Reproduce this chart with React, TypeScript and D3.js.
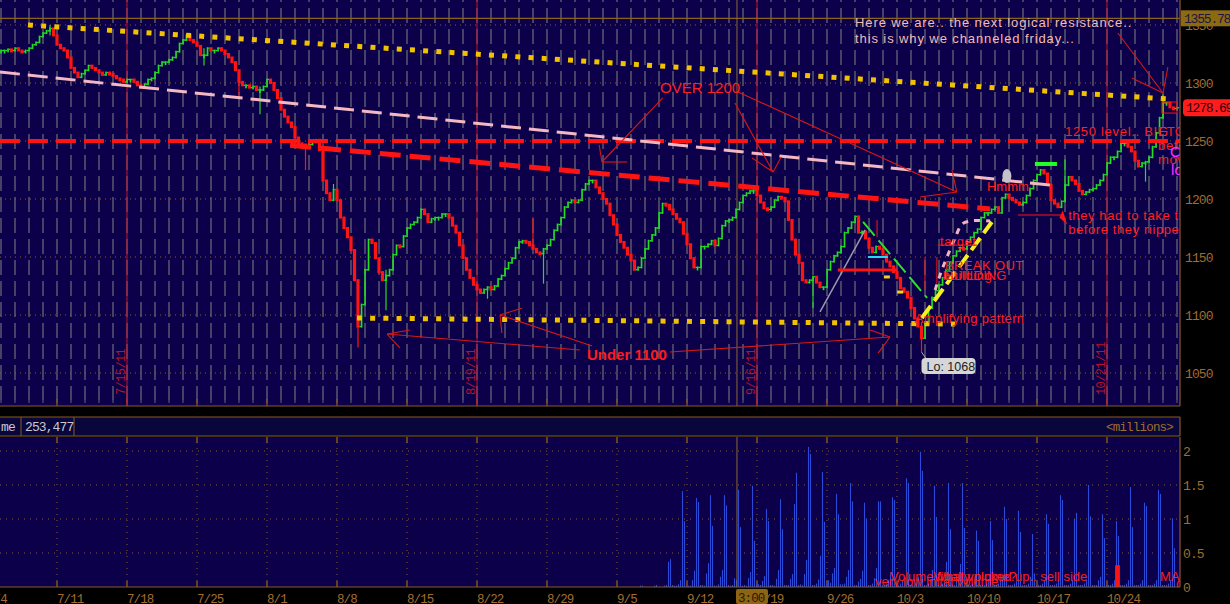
import React from "react";
import * as d3 from "d3";

// ---- price series: four bars per session, Tue 7/5/2011 .. Fri 10/28/2011 ----
const BARS_PER_DAY = 4;
const closes: number[] = [
  1328, 1328, 1329, 1328, 1330, 1328, 1327, 1328, 1330, 1333,
  1335, 1340, 1343, 1345, 1347, 1341, 1333, 1330, 1328, 1322,
  1313, 1309, 1305, 1308, 1311, 1315, 1313, 1311, 1309, 1307,
  1309, 1308, 1306, 1304, 1303, 1301, 1303, 1303, 1301, 1298,
  1296, 1299, 1303, 1304, 1309, 1315, 1318, 1318, 1320, 1322,
  1327, 1334, 1337, 1341, 1337, 1335, 1332, 1324, 1324, 1330,
  1328, 1328, 1330, 1328, 1325, 1322, 1318, 1311, 1301, 1298,
  1298, 1296, 1297, 1294, 1294, 1297, 1303, 1300, 1294, 1287,
  1277, 1271, 1266, 1262, 1253, 1248, 1247, 1245, 1247, 1249,
  1251, 1242, 1216, 1205, 1199, 1208, 1199, 1184, 1175, 1167,
  1156, 1130, 1090, 1109, 1139, 1165, 1162, 1149, 1137, 1130,
  1134, 1139, 1152, 1160, 1159, 1168, 1175, 1178, 1180, 1184,
  1191, 1187, 1180, 1183, 1184, 1184, 1187, 1187, 1184, 1177,
  1171, 1160, 1149, 1139, 1132, 1126, 1122, 1119, 1122, 1124,
  1122, 1125, 1131, 1134, 1140, 1145, 1149, 1158, 1163, 1164,
  1163, 1160, 1157, 1154, 1153, 1157, 1160, 1165, 1173, 1178,
  1184, 1193, 1197, 1199, 1197, 1199, 1208, 1213, 1216, 1216,
  1210, 1205, 1200, 1196, 1186, 1178, 1169, 1163, 1158, 1152,
  1147, 1139, 1141, 1149, 1157, 1164, 1169, 1175, 1188, 1196,
  1195, 1191, 1187, 1183, 1180, 1170, 1161, 1149, 1141, 1141,
  1159, 1159, 1161, 1164, 1160, 1166, 1177, 1181, 1182, 1184,
  1191, 1197, 1203, 1205, 1207, 1207, 1203, 1197, 1192, 1191,
  1193, 1199, 1202, 1201, 1198, 1182, 1165, 1152, 1145, 1130,
  1128, 1130, 1133, 1128, 1124, 1124, 1139, 1146, 1151, 1154,
  1159, 1171, 1175, 1180, 1185, 1171, 1172, 1166, 1158, 1154,
  1159, 1157, 1152, 1146, 1142, 1137, 1132, 1123, 1120, 1115,
  1106, 1097, 1090, 1080, 1094, 1106, 1115, 1121, 1126, 1132,
  1139, 1145, 1151, 1155, 1158, 1157, 1163, 1167, 1171, 1174,
  1184, 1188, 1188, 1191, 1193, 1188, 1201, 1204, 1201, 1199,
  1197, 1195, 1197, 1203, 1209, 1216, 1221, 1225, 1222, 1212,
  1199, 1196, 1193, 1198, 1212, 1219, 1216, 1213, 1207, 1204,
  1206, 1208, 1209, 1212, 1216, 1221, 1231, 1236, 1236, 1241,
  1248, 1248, 1245, 1241, 1233, 1228, 1231, 1232, 1236, 1245,
  1257, 1270, 1283, 1283, 1279, 1278, 1278.69,
];

// wick extremes on selected bars: [bar, low, high]
const wicks: [number, number, number][] = [
  [14, 1341, 1350],
  [53, 1337, 1342],
  [58, 1315, 1330],
  [68, 1290, 1301],
  [74, 1273, 1297],
  [87, 1225, 1247],
  [95, 1199, 1213],
  [102, 1072, 1109],
  [110, 1104, 1139],
  [139, 1114, 1124],
  [152, 1157, 1184],
  [155, 1127, 1157],
  [232, 1106, 1133],
  [263, 1068, 1094],
  [304, 1198, 1234],
  [327, 1215, 1232],
  [332, 1270, 1290],
];

// ---- volume (millions), seven slots per session, starting Tue 9/6 (day 45) ----
const SLOTS_PER_DAY = 7;
const VOLUME_FIRST_DAY = 45;
const volumeByDay: number[][] = [
  [0, 0, 0, 0, 0.02, 0.02, 0],
  [0, 0, 0, 0, 0.02, 0.03, 0],
  [0, 0, 0.02, 0.03, 0.37, 0.41, 0.03],
  [0.02, 0.02, 0.04, 0.1, 1.41, 0.97, 0.02],
  [0.02, 0.02, 0.1, 0.24, 1.31, 1.25, 0.03],
  [0.03, 0.02, 0.2, 0.35, 1.35, 0.9, 0.02],
  [0.02, 0.04, 0.15, 0.25, 1.35, 1.2, 0.03],
  [0.02, 0.03, 0.13, 0.1, 1.43, 0.88, 0.02],
  [0.03, 0.02, 0.13, 0.22, 1.49, 0.68, 0.04],
  [0.04, 0.03, 0.09, 0.16, 1.15, 0.97, 0.03],
  [0.03, 0.02, 0.12, 0.25, 1.29, 0.85, 0.03],
  [0.03, 0.03, 0.12, 0.19, 1.22, 1.68, 0.03],
  [0.04, 0.03, 0.19, 0.4, 2.06, 1.96, 0.03],
  [0.03, 0.05, 0.11, 0.46, 1.69, 0.96, 0.04],
  [0.1, 0.06, 0.2, 0.28, 1.37, 1.07, 0.04],
  [0.04, 0.05, 0.15, 0.25, 1.53, 1.26, 0.03],
  [0.03, 0.08, 0.12, 0.24, 1.24, 1.01, 0.03],
  [0.03, 0.05, 0.13, 0.28, 1.26, 1.26, 0.03],
  [0.03, 0.05, 0.1, 0.22, 1.32, 1.28, 0.03],
  [0.03, 0.05, 0.1, 0.1, 1.6, 1.53, 0.03],
  [0.03, 0.1, 0.14, 0.15, 1.99, 1.71, 0.03],
  [0.03, 0.05, 0.1, 0.25, 1.49, 1.03, 0.03],
  [0.03, 0.05, 0.1, 0.37, 1.53, 0.85, 0.03],
  [0.03, 0.1, 0.1, 0.34, 1.53, 0.87, 0.03],
  [0.03, 0.03, 0.05, 0.1, 0.83, 0.68, 0.03],
  [0.03, 0.03, 0.05, 0.1, 0.97, 0.69, 0.03],
  [0.03, 0.05, 0.1, 0.15, 1.18, 1.0, 0.03],
  [0.03, 0.03, 0.05, 0.1, 1.12, 0.81, 0.03],
  [0.03, 0.03, 0.05, 0.15, 0.78, 0.2, 0.03],
  [0.03, 0.03, 0.05, 0.1, 1.07, 0.93, 0.03],
  [0.03, 0.03, 0.05, 0.1, 1.35, 1.28, 0.03],
  [0.03, 0.03, 0.05, 0.1, 1.0, 1.09, 0.03],
  [0.03, 0.03, 0.05, 0.1, 1.5, 1.04, 0.03],
  [0.03, 0.03, 0.1, 0.15, 1.07, 0.72, 0.03],
  [0.03, 0.03, 0.05, 0.1, 0.97, 0.75, 0.03],
  [0.03, 0.03, 0.05, 0.1, 1.47, 0.88, 0.03],
  [0.03, 0.03, 0.05, 0.1, 1.24, 1.19, 0.03],
  [0.03, 0.03, 0.05, 0.1, 1.43, 1.37, 0.03],
  [0.03, 0.03, 0.05, 0.1, 1.01, 0.57],
];
// highlighted volume slots: [day, slot, millions]
const volumeMarks: [number, number, number][] = [
  [79, 4, 0.32],
  [79, 5, 0.32],
];

// ---- axes ----
const weekLabels = ["7/4", "7/11", "7/18", "7/25", "8/1", "8/8", "8/15", "8/22", "8/29",
  "9/5", "9/12", "9/19", "9/26", "10/3", "10/10", "10/17", "10/24"];
const expiryLabels = ["7/15/11", "8/19/11", "9/16/11", "10/21/11"];
const expiryDays = [9, 34, 54, 79];
const priceTicks = [1050, 1100, 1150, 1200, 1250, 1300, 1350];
const volumeTicks = [0, 0.5, 1, 1.5, 2];
const resistancePrice = 1355.78;
const lastVolume = "253,477";
const cursorDay = 52.57;
const cursorLabel = "3:00";

// ---- drawn studies, in (bar, price) ----
type Pt = [number, number];
const studies: { pts: Pt[]; kind: string }[] = [
  { pts: [[-0.3, 1250], [337, 1250]], kind: "redLevel" },
  { pts: [[-0.3, 1309.5], [299.7, 1212]], kind: "pinkDash" },
  { pts: [[82.6, 1246.3], [282.6, 1191.4]], kind: "redSlope" },
  { pts: [[7.7, 1350], [334.6, 1286]], kind: "goldDots" },
  { pts: [[101.7, 1097.4], [272.6, 1092.2]], kind: "goldDots" },
  { pts: [[234, 1102.6], [246.9, 1173.3]], kind: "gray" },
  { pts: [[239.1, 1138.8], [256, 1138.8]], kind: "redBar" },
  { pts: [[247.7, 1150], [253.4, 1150]], kind: "cyan" },
  { pts: [[246.3, 1180.2], [264.6, 1114.7]], kind: "greenDash" },
  { pts: [[266.9, 1121.6], [268.6, 1137.1], [270.3, 1150], [272.6, 1166.4], [274.6, 1178.4], [276.9, 1181], [279.1, 1181.5], [282.6, 1181]], kind: "pinkDots" },
  { pts: [[263.1, 1097.4], [283.1, 1180.2]], kind: "yellowDash" },
  { pts: [[267.7, 1160.3], [278.9, 1160.3]], kind: "redThin" },
  { pts: [[290.6, 1186.2], [303.4, 1186.2]], kind: "redThin" },
  { pts: [[295.4, 1230.2], [301.7, 1230.2]], kind: "greenBar" },
  { pts: [[264, 1121.6], [264, 1150]], kind: "redThin" },
  { pts: [[267.4, 1127], [267.4, 1150]], kind: "redThin" },
  { pts: [[250.3, 1167.2], [250.3, 1181.9]], kind: "redThin" },
];
const yellowTicks: Pt[] = [[253.1, 1132.8], [256.9, 1119.8]];

const arrows: { from: Pt; to: Pt; heads: Pt[] }[] = [
  { from: [189.1, 1287.1], to: [171.7, 1231.9], heads: [[178.9, 1231.9], [170.9, 1246.6]] },
  { from: [209.7, 1282.8], to: [220.6, 1223.3], heads: [[214.6, 1235.3], [222.9, 1236.2]] },
  { from: [210.6, 1292.2], to: [273.1, 1206], heads: [[271.7, 1225], [262.6, 1201.7]] },
  { from: [165.4, 1069.8], to: [110.3, 1083.6], heads: [[116.9, 1087.1], [114, 1071.6]] },
  { from: [168.9, 1073.3], to: [142.6, 1100], heads: [[148.9, 1106], [143.1, 1084.5]] },
  { from: [191.1, 1068.1], to: [254, 1081], heads: [[248.3, 1087.1], [250.6, 1067.2]] },
  { from: [319.1, 1343.1], to: [332, 1291.4], heads: [[323.1, 1304.3], [333.4, 1313.8]] },
];

const notes: { at: Pt; text: string; color: string; size: number; bold?: boolean; spacing?: number }[] = [
  { at: [188.3, 1291.4], text: "OVER 1200", color: "#ff2020", size: 15 },
  { at: [167.4, 1061.2], text: "Under 1100", color: "#ff1c1c", size: 15, bold: true },
  { at: [244, 1348.3], text: "Here we are.. the next logical resistance..", color: "#f2bcb4", size: 13, spacing: 0.9 },
  { at: [244, 1334.5], text: "this is why we channeled friday...", color: "#f2bcb4", size: 13, spacing: 0.9 },
  { at: [304, 1254.3], text: "1250 level.. BIG", color: "#ff2020", size: 13, spacing: 0.7 },
  { at: [330.6, 1254.3], text: "ETG", color: "#ff2020", size: 13 },
  { at: [330.6, 1242.2], text: "before", color: "#ff2020", size: 13, spacing: 0.6 },
  { at: [330.6, 1230.2], text: "move", color: "#ff2020", size: 13, spacing: 0.6 },
  { at: [334, 1236.2], text: "Co", color: "#ff30ff", size: 15 },
  { at: [334.3, 1220.7], text: "lo", color: "#ff30ff", size: 15 },
  { at: [281.7, 1206.9], text: "Hmmm", color: "#ff2020", size: 13 },
  { at: [304.9, 1181.9], text: "they had to take the B", color: "#ff2020", size: 13, spacing: 0.6 },
  { at: [304.9, 1169.8], text: "before they riipped it", color: "#ff2020", size: 13, spacing: 0.6 },
  { at: [268.3, 1159.5], text: "target", color: "#ff2020", size: 13, spacing: 0.5 },
  { at: [269.7, 1138.8], text: "BREAK OUT", color: "#ff2020", size: 13, spacing: 0.4 },
  { at: [269.7, 1130.2], text: "BUILDING", color: "#ff2020", size: 13 },
  { at: [269.1, 1130.2], text: "building", color: "#ff2020", size: 13, spacing: 0.6 },
  { at: [261.1, 1093.1], text: "Amplifying pattern", color: "#ff2020", size: 13, spacing: 0.3 },
];

// volume-panel notes in (day, millions)
const volumeNotes: { at: Pt; text: string }[] = [
  { at: [63.5, 0.09], text: "Volume finally picked up.. sell side" },
  { at: [66.6, 0.09], text: "What volume?" },
  { at: [62.43, 0.015], text: "very low inital volume" },
  { at: [82.79, 0.09], text: "MA" },
  { at: [83.93, -0.03], text: "Co" },
];

const BG = "#0b0049";
const GRAY = "#666674";
const BROWN = "#8a5a22";
const AXIS_TXT = "#a06c30";
const UP = "#22dd22";
const DOWN = "#ff1414";
const MONO = "'Liberation Mono', 'DejaVu Sans Mono', monospace";
const SANS = "'Liberation Sans', Arial, sans-serif";

const strokeStyles: Record<string, { stroke: string; width: number; dash?: string; curve?: boolean }> = {
  redLevel: { stroke: "#ff1414", width: 4, dash: "20,8" },
  pinkDash: { stroke: "#f4b8c4", width: 3, dash: "20,8" },
  redSlope: { stroke: "#ff1414", width: 5, dash: "21,9" },
  goldDots: { stroke: "#f2c200", width: 5, dash: "5,8.2" },
  gray: { stroke: "#9a9aa8", width: 1.5 },
  redBar: { stroke: "#ff1414", width: 3 },
  cyan: { stroke: "#28d8f0", width: 2 },
  greenDash: { stroke: "#2ee02e", width: 2, dash: "18,6" },
  pinkDots: { stroke: "#f2b4c2", width: 3, dash: "6,6", curve: true },
  yellowDash: { stroke: "#f6f020", width: 4, dash: "15,6" },
  redThin: { stroke: "#ff1414", width: 1 },
  greenBar: { stroke: "#22ff22", width: 4 },
};

export default function App() {
  const x = d3.scaleLinear().domain([0, 84]).range([1, 1177]);
  const y = d3.scaleLinear().domain([1050, 1300]).range([373, 83]);
  const yv = d3.scaleLinear().domain([0, 2]).range([587, 451]);
  const bx = (b: number) => x(b / BARS_PER_DAY);

  const straight = d3.line<Pt>().x((d) => bx(d[0])).y((d) => y(d[1]));
  const smooth = d3.line<Pt>().x((d) => bx(d[0])).y((d) => y(d[1])).curve(d3.curveCatmullRom);

  const PR = 1180; // right edge of the plot area
  const days = d3.range(0, 85);
  const weekDays = weekLabels.map((_, j) => 5 * j - 1);

  const last = closes[closes.length - 1];

  // lowest print across bodies and wicks
  let loBar = 0;
  let loVal = Infinity;
  closes.forEach((c, i) => { if (c < loVal) { loVal = c; loBar = i; } });
  wicks.forEach(([b, l]) => { if (l < loVal) { loVal = l; loBar = b; } });

  const wickMap = new Map(wicks.map((w) => [w[0], w]));

  return (
    <svg width={1230} height={604} style={{ position: "absolute", left: 0, top: 0, background: "#000" }}
      xmlns="http://www.w3.org/2000/svg">
      <defs>
        <clipPath id="pclip"><rect x={0} y={0} width={PR} height={406} /></clipPath>
        <clipPath id="vclip"><rect x={0} y={437} width={PR} height={150} /></clipPath>
      </defs>

      {/* ---------- price panel ---------- */}
      <rect x={0} y={0} width={PR} height={406} fill={BG} />
      <g clipPath="url(#pclip)">
        {priceTicks.map((t) => (
          <line key={t} x1={0} x2={PR} y1={y(t)} y2={y(t)} stroke={BROWN} strokeWidth={1} strokeDasharray="1,4" />
        ))}
        {days.map((d) => (
          <line key={d} x1={x(d)} x2={x(d)} y1={0} y2={400} stroke={GRAY} strokeWidth={1.3}
            strokeDasharray="15,6" strokeDashoffset={13} />
        ))}
        {days.map((d) => (
          <line key={"t" + d} x1={x(d)} x2={x(d)} y1={400} y2={403} stroke={GRAY} strokeWidth={1} />
        ))}
        {weekDays.map((d) => (
          <line key={"w" + d} x1={x(d)} x2={x(d)} y1={399} y2={406} stroke={BROWN} strokeWidth={1.3} />
        ))}
        {/* monthly expiration markers */}
        {expiryDays.map((d, k) => (
          <g key={"e" + d}>
            <line x1={x(d)} x2={x(d)} y1={0} y2={406} stroke="#c8102a" strokeWidth={1} />
            <text transform={`translate(${x(d) - 2},395) rotate(-90)`} fill="#b8142c" fontFamily={MONO}
              fontSize={12} letterSpacing={-0.6}>{expiryLabels[k]}</text>
          </g>
        ))}
        {/* resistance reference line */}
        <line x1={0} x2={PR} y1={y(resistancePrice)} y2={y(resistancePrice)} stroke="#8a6418" strokeWidth={1.2} />
        {/* cursor */}
        <line x1={x(cursorDay)} x2={x(cursorDay)} y1={0} y2={406} stroke="#8a6a30" strokeWidth={1} />

        {/* price bars */}
        {closes.map((c, i) => {
          const o = i === 0 ? c : closes[i - 1];
          const up = c >= o;
          const cx = bx(i);
          const top = y(Math.max(o, c));
          const h = Math.max(y(Math.min(o, c)) - top, 2);
          const w = wickMap.get(i);
          const col = up ? UP : DOWN;
          return (
            <g key={"b" + i}>
              {w && <line x1={cx} x2={cx} y1={y(w[2])} y2={y(w[1])} stroke={col} strokeWidth={1.2} />}
              {up ? (
                <>
                  <rect x={cx - 0.8} y={top - 1} width={1.7} height={h + 2} fill={UP} />
                  <rect x={cx - 2} y={y(o) - 0.6} width={1.5} height={1.2} fill={UP} />
                  <rect x={cx + 0.8} y={y(c) - 0.6} width={1.5} height={1.2} fill={UP} />
                </>
              ) : (
                <rect x={cx - 1.6} y={top - 1} width={3.2} height={h + 2} fill={DOWN} />
              )}
            </g>
          );
        })}

        {/* drawn studies */}
        {studies.map((s, k) => {
          const st = strokeStyles[s.kind];
          return (
            <path key={"s" + k} d={(st.curve ? smooth : straight)(s.pts) || ""} fill="none" stroke={st.stroke}
              strokeWidth={st.width} strokeDasharray={st.dash} />
          );
        })}
        {yellowTicks.map(([b, p], k) => (
          <rect key={"yt" + k} x={bx(b) - 3} y={y(p) - 1.5} width={6} height={3} fill="#f6d020" />
        ))}
        {/* marker box around the last push */}
        <rect x={bx(331.7)} y={y(1283.6)} width={bx(336) - bx(331.7)} height={y(1274.1) - y(1283.6)}
          fill="none" stroke="#ff1414" strokeWidth={1} />
        <ellipse cx={bx(287.4)} cy={y(1219.8)} rx={4.5} ry={7} fill="#c4c4c8" />
        <path d={`M${bx(303.4)},${y(1190)} L${bx(304.6)},${y(1178)} L${bx(302.4)},${y(1184)} Z`} fill="#ff1414" />

        {arrows.map((a, k) => (
          <g key={"a" + k} stroke="#d81818" strokeWidth={1.1}>
            <line x1={bx(a.from[0])} y1={y(a.from[1])} x2={bx(a.to[0])} y2={y(a.to[1])} />
            {a.heads.map((h, j) => (
              <line key={j} x1={bx(a.to[0])} y1={y(a.to[1])} x2={bx(h[0])} y2={y(h[1])} />
            ))}
          </g>
        ))}

        {notes.map((n, k) => (
          <text key={"n" + k} x={bx(n.at[0])} y={y(n.at[1])} fill={n.color} fontFamily={SANS}
            fontSize={n.size} fontWeight={n.bold ? "bold" : "normal"} letterSpacing={n.spacing || 0}>{n.text}</text>
        ))}

        {/* session low bubble */}
        <line x1={bx(loBar)} y1={y(loVal)} x2={bx(loBar) + 5} y2={y(loVal) + 7} stroke="#b0b0b0" strokeWidth={1} />
        <rect x={bx(loBar)} y={y(loVal) + 6} width={54} height={16} rx={4} fill="#d6d6d6" />
        <text x={bx(loBar) + 5} y={y(loVal) + 18.5} fill="#1c1c1c" fontFamily={SANS} fontSize={12.5}>
          {`Lo: ${d3.format("d")(loVal)}`}
        </text>
      </g>

      {/* ---------- price axis ---------- */}
      <line x1={PR} x2={PR} y1={0} y2={406} stroke={BROWN} strokeWidth={1.2} />
      <line x1={0} x2={PR} y1={406} y2={406} stroke={BROWN} strokeWidth={1.2} />
      {priceTicks.map((t) => (
        <text key={"pl" + t} x={1185} y={y(t) + 4.5} fill={AXIS_TXT} fontFamily={MONO} fontSize={13}
          letterSpacing={-0.9}>{t}</text>
      ))}
      <rect x={1181} y={y(resistancePrice) - 8} width={49} height={16} fill="#8c6a12" />
      <text x={1184} y={y(resistancePrice) + 4.5} fill="#1c1640" fontFamily={MONO} fontSize={13}
        letterSpacing={-1.2}>{resistancePrice.toFixed(2)}</text>
      <rect x={1183} y={y(last) - 8.5} width={52} height={17} rx={4} fill="#ff1c1c" />
      <text x={1186} y={y(last) + 4.5} fill="#2a0008" fontFamily={MONO} fontSize={13}
        letterSpacing={-1.2}>{last.toFixed(2)}</text>

      {/* ---------- volume header ---------- */}
      <rect x={0} y={417} width={PR} height={19} fill="#08063a" />
      <line x1={0} x2={PR} y1={417} y2={417} stroke={BROWN} strokeWidth={1.2} />
      <line x1={0} x2={PR} y1={436} y2={436} stroke={BROWN} strokeWidth={1.2} />
      <line x1={21} x2={21} y1={417} y2={436} stroke={BROWN} strokeWidth={1} />
      <line x1={74} x2={74} y1={417} y2={436} stroke={BROWN} strokeWidth={1} />
      <line x1={PR} x2={PR} y1={417} y2={436} stroke={BROWN} strokeWidth={1.2} />
      <text x={1} y={431} fill="#c8c8d4" fontFamily={MONO} fontSize={13} letterSpacing={-0.8}>me</text>
      <text x={25} y={431} fill="#c8c8d4" fontFamily={MONO} fontSize={13} letterSpacing={-0.9}>{lastVolume}</text>
      <text x={1173} y={431} textAnchor="end" fill={AXIS_TXT} fontFamily={MONO} fontSize={12.5}
        letterSpacing={-0.8}>{"<millions>"}</text>

      {/* ---------- volume panel ---------- */}
      <rect x={0} y={437} width={PR} height={150} fill={BG} />
      <g clipPath="url(#vclip)">
        {volumeTicks.filter((t) => t > 0).map((t) => (
          <line key={"vg" + t} x1={0} x2={PR} y1={yv(t)} y2={yv(t)} stroke={BROWN} strokeDasharray="1,5" />
        ))}
        {weekDays.map((d) => (
          <g key={"vw" + d}>
            <line x1={x(d)} x2={x(d)} y1={442} y2={582} stroke={BROWN} strokeDasharray="1,5" />
            <line x1={x(d)} x2={x(d)} y1={437} y2={443} stroke={BROWN} strokeWidth={1.4} />
            <line x1={x(d)} x2={x(d)} y1={581} y2={587} stroke={BROWN} strokeWidth={1.4} />
          </g>
        ))}
        {volumeByDay.map((row, j) =>
          row.map((v, s) => {
            const cx = x(VOLUME_FIRST_DAY + j + (s + 0.75) / SLOTS_PER_DAY);
            return v > 0 ? (
              <rect key={`v${j}-${s}`} x={cx - 0.55} y={yv(v)} width={1.1} height={yv(0) - yv(v)} fill="#2c4ad8" />
            ) : null;
          })
        )}
        {volumeMarks.map(([d, s, v], k) => {
          const cx = x(d + (s + 0.75) / SLOTS_PER_DAY);
          return <rect key={"vm" + k} x={cx - 1.4} y={yv(v)} width={2.8} height={yv(0) - yv(v)} fill="#ff1414" />;
        })}
        <line x1={x(cursorDay)} x2={x(cursorDay)} y1={437} y2={587} stroke="#8a6a30" strokeWidth={1} />
        {volumeNotes.map((n, k) => (
          <text key={"vn" + k} x={x(n.at[0])} y={yv(n.at[1])} fill="#ff1c1c" fontFamily={SANS} fontSize={13}>
            {n.text}
          </text>
        ))}
      </g>
      <line x1={PR} x2={PR} y1={437} y2={587} stroke={BROWN} strokeWidth={1.2} />
      <line x1={0} x2={PR} y1={587} y2={587} stroke={BROWN} strokeWidth={1.2} />
      {volumeTicks.map((t) => (
        <text key={"vl" + t} x={1183} y={yv(t) + 5} fill={AXIS_TXT} fontFamily={MONO} fontSize={13}
          letterSpacing={-0.9}>{String(t)}</text>
      ))}

      {/* ---------- date axis ---------- */}
      {weekDays.map((d, j) => (
        <text key={"dl" + d} x={x(d)} y={603} fill={AXIS_TXT} fontFamily={MONO} fontSize={12.5}
          letterSpacing={-0.9}>{weekLabels[j]}</text>
      ))}
      <rect x={x(cursorDay) - 1} y={589} width={32} height={15} rx={2} fill="#8c6414" />
      <text x={x(cursorDay) + 1} y={602} fill="#2a1800" fontFamily={MONO} fontSize={12.5}
        letterSpacing={-0.9}>{cursorLabel}</text>
    </svg>
  );
}
